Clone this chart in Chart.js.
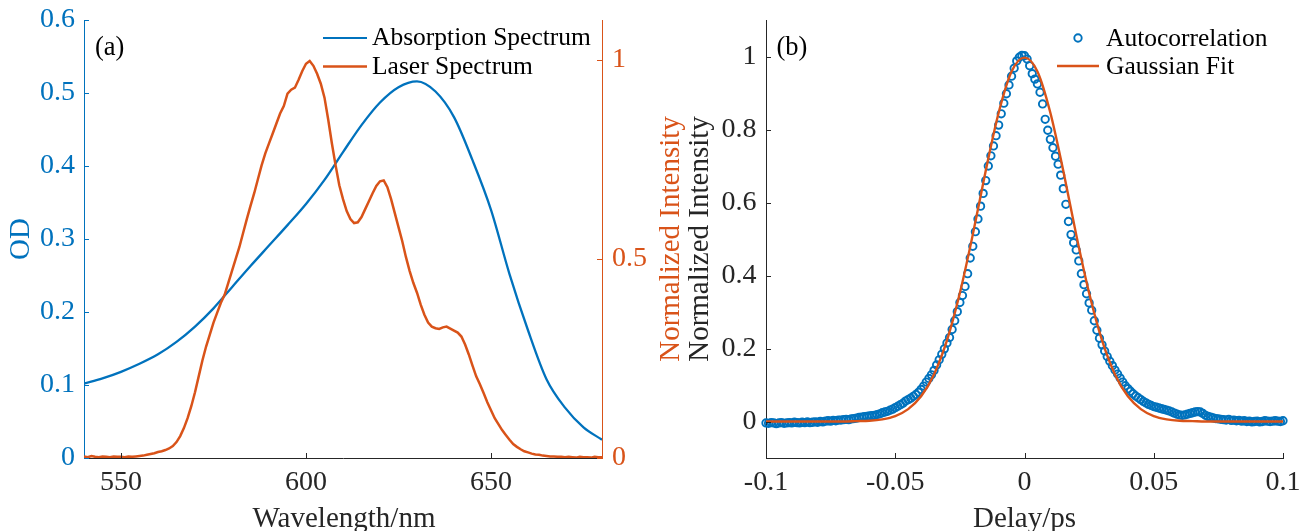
<!DOCTYPE html>
<html>
<head>
<meta charset="utf-8">
<script src="https://cdn.jsdelivr.net/npm/chart.js@4.4.1/dist/chart.umd.min.js"></script>
<style>
  html, body { margin: 0; padding: 0; background: #ffffff; }
  #wrap { position: relative; width: 1302px; height: 531px; overflow: hidden; }
  #wrap canvas { position: absolute; left: 0; top: 0; }
</style>
</head>
<body>
<div id="wrap">
  <canvas id="spectra" width="1302" height="531"></canvas>
  <canvas id="autocorr" width="1302" height="531"></canvas>
</div>
<script>
// ---------- (a) absorption and laser spectra ----------
const absWavelength = [540, 545, 550, 555, 560, 565, 570, 575, 580, 585, 590, 595, 600, 605, 610,
  615, 620, 625, 630, 635, 640, 645, 650, 655, 660, 665, 670, 675, 680];
const absOD = [0.102, 0.109, 0.118, 0.129, 0.142, 0.159, 0.180, 0.205, 0.234, 0.263, 0.291, 0.319,
  0.348, 0.381, 0.419, 0.456, 0.487, 0.508, 0.516, 0.502, 0.467, 0.408, 0.340, 0.252, 0.175, 0.108,
  0.069, 0.042, 0.025];

// laser spectrum sampled every 1 nm from 540 nm to 680 nm
const laserStart = 540;
const laserIntensity = [
  0.004, 0.002, 0.005, 0.003, 0.002, 0.004, 0.003, 0.002, 0.004, 0.003,   // 540-549
  0.003, 0.002, 0.004, 0.003, 0.004, 0.005, 0.006, 0.008, 0.010, 0.012,   // 550-559
  0.015, 0.017, 0.020, 0.024, 0.030, 0.040, 0.055, 0.075, 0.100, 0.130,   // 560-569
  0.165, 0.205, 0.245, 0.280, 0.310, 0.340, 0.365, 0.390, 0.410, 0.440,   // 570-579
  0.470, 0.500, 0.530, 0.565, 0.600, 0.633, 0.665, 0.700, 0.735, 0.765,   // 580-589
  0.790, 0.815, 0.840, 0.865, 0.884, 0.915, 0.925, 0.930, 0.950, 0.972,   // 590-599
  0.990, 0.997, 0.985, 0.965, 0.940, 0.905, 0.850, 0.790, 0.735, 0.685,   // 600-609
  0.650, 0.620, 0.600, 0.590, 0.592, 0.605, 0.625, 0.645, 0.665, 0.683,   // 610-619
  0.695, 0.697, 0.680, 0.650, 0.615, 0.580, 0.545, 0.505, 0.470, 0.440,   // 620-629
  0.415, 0.385, 0.360, 0.340, 0.330, 0.326, 0.324, 0.328, 0.330, 0.325,   // 630-639
  0.320, 0.315, 0.305, 0.285, 0.260, 0.232, 0.205, 0.185, 0.163, 0.140,   // 640-649
  0.120, 0.100, 0.085, 0.070, 0.058, 0.046, 0.035, 0.028, 0.022, 0.017,   // 650-659
  0.014, 0.011, 0.009, 0.008, 0.006, 0.005, 0.004, 0.004, 0.003, 0.003,   // 660-669
  0.002, 0.003, 0.002, 0.001, 0.003, 0.002, 0.002, 0.001, 0.003, 0.002,   // 670-679
  0.002                                                                    // 680
];

const waveTicks = [550, 600, 650];
const odTicks = [0, 0.1, 0.2, 0.3, 0.4, 0.5, 0.6];
const intensityTicks = [0, 0.5, 1];

// ---------- (b) autocorrelation trace ----------
// measured trace sampled every 0.001 ps from -0.1 ps to 0.1 ps
const delayStart = -0.1;
const delayStep = 0.001;
const autocorrelation = [
  -0.004, -0.005, -0.003, -0.004, -0.006, -0.004, -0.003, -0.005, -0.004, -0.003,  // -0.100 .. -0.091
  -0.004, -0.002, -0.003, -0.004, -0.002, -0.003, -0.001, -0.003, -0.002, -0.001,  // -0.090 .. -0.081
  -0.002, 0.000, -0.001, 0.001, 0.002, 0.001, 0.003, 0.002, 0.004, 0.004,          // -0.080 .. -0.071
  0.005, 0.006, 0.005, 0.007, 0.008, 0.009,                                        // -0.070 .. -0.065
  0.011, 0.012, 0.013, 0.014, 0.015, 0.016, 0.017, 0.019, 0.021, 0.024,            // -0.064 .. -0.055
  0.026, 0.028, 0.031, 0.034, 0.038, 0.042, 0.046, 0.050, 0.056, 0.060,            // -0.054 .. -0.045
  0.064, 0.069, 0.074, 0.080,                                                      // -0.044 .. -0.041
  0.088, 0.097, 0.108, 0.118, 0.128, 0.140, 0.155, 0.169, 0.184, 0.199,            // -0.040 .. -0.031
  0.215, 0.230, 0.252, 0.276, 0.301, 0.326, 0.345, 0.370, 0.405, 0.448,            // -0.030 .. -0.021
  0.480, 0.520, 0.555, 0.590, 0.625, 0.660, 0.700, 0.728, 0.755, 0.783,            // -0.020 .. -0.011
  0.812, 0.843, 0.872, 0.898, 0.922, 0.946, 0.968, 0.988, 0.998, 1.003,            // -0.010 .. -0.001
  1.002, 0.993, 0.975, 0.953, 0.938, 0.925, 0.902, 0.870, 0.828, 0.798,            //  0.000 ..  0.009
  0.773, 0.750, 0.727, 0.705, 0.675, 0.638, 0.595, 0.548, 0.512, 0.490,            //  0.010 ..  0.019
  0.470, 0.440, 0.405, 0.375, 0.350, 0.325, 0.305, 0.276, 0.250, 0.228,            //  0.020 ..  0.029
  0.210, 0.193, 0.178, 0.165, 0.153, 0.141, 0.130, 0.119, 0.108, 0.098,            //  0.030 ..  0.039
  0.090, 0.083, 0.076, 0.070, 0.065, 0.060, 0.055, 0.051, 0.047, 0.044,            //  0.040 ..  0.049
  0.041, 0.039, 0.037, 0.035, 0.033, 0.031, 0.029, 0.026, 0.023, 0.020,            //  0.050 ..  0.059
  0.018, 0.017, 0.018, 0.020, 0.022, 0.024, 0.026, 0.027, 0.026, 0.022,            //  0.060 ..  0.069
  0.017, 0.014, 0.012, 0.010, 0.008, 0.007, 0.006, 0.005, 0.004, 0.006,            //  0.070 ..  0.079
  0.003, 0.004, 0.002, 0.003, 0.001, 0.002, 0.000, 0.001, -0.001, 0.000,           //  0.080 ..  0.089
  0.001, -0.001, 0.000, 0.002, 0.001, 0.000, 0.001, 0.002, 0.001, 0.000,           //  0.090 ..  0.099
  0.002                                                                            //  0.100
];

// gaussian fit sampled every 0.005 ps
const fitDelay = [-0.100, -0.095, -0.090, -0.085, -0.080, -0.075, -0.070, -0.065, -0.060, -0.055,
  -0.050, -0.045, -0.040, -0.035, -0.030, -0.025, -0.020, -0.015, -0.010, -0.005, 0,
  0.005, 0.010, 0.015, 0.020, 0.025, 0.030, 0.035, 0.040, 0.045, 0.050, 0.055, 0.060, 0.065,
  0.070, 0.075, 0.080, 0.085, 0.090, 0.095, 0.100];
const fitIntensity = [0, 0, 0, 0, 0, 0, 0, 0.001, 0.002, 0.006,
  0.015, 0.034, 0.069, 0.129, 0.222, 0.352, 0.512, 0.687, 0.846, 0.959, 0.997,
  0.959, 0.846, 0.687, 0.512, 0.352, 0.222, 0.129, 0.069, 0.034, 0.015, 0.006, 0.002, 0.001,
  0, 0, 0, 0, 0, 0, 0];

const delayTicks = [-0.1, -0.05, 0, 0.05, 0.1];
const acTicks = [0, 0.2, 0.4, 0.6, 0.8, 1];

// ---------- styling ----------
const BLUE = '#0072BD';
const ORANGE = '#D95319';
const AXIS = '#262626';
const SERIF = '"Liberation Serif", "Times New Roman", Times, serif';
const TICK_FONT = { family: SERIF, size: 28 };
const TITLE_SIZE = 29;
const fmt = v => String(parseFloat(Number(v).toFixed(3)));

function axis(opts) {
  const { position, min, max, ticks, color, labelColor, padding, size } = opts;
  return {
    type: 'linear',
    position, min, max,
    grid: { display: false, drawTicks: false },
    border: { display: true, color, width: 1 },
    ticks: {
      font: TICK_FONT, color: labelColor, padding,
      autoSkip: false, maxRotation: 0, minRotation: 0,
      callback: v => fmt(v)
    },
    afterBuildTicks: s => { s.ticks = ticks.map(v => ({ value: v })); },
    afterFit: s => {
      if (s.isHorizontal()) s.height = size; else s.width = size;
      s.paddingLeft = 0; s.paddingRight = 0; s.paddingTop = 0; s.paddingBottom = 0;
    }
  };
}

// MATLAB-style tick marks pointing into the plot area
const inwardTicks = {
  id: 'inwardTicks',
  afterDatasetsDraw(chart) {
    const ctx = chart.ctx;
    const len = 5;
    Object.values(chart.scales).forEach(scale => {
      ctx.save();
      ctx.strokeStyle = scale.options.border.color;
      ctx.lineWidth = 1;
      scale.ticks.forEach(t => {
        const p = Math.round(scale.getPixelForValue(t.value)) + 0.5;
        ctx.beginPath();
        if (scale.isHorizontal()) {
          ctx.moveTo(p, scale.top); ctx.lineTo(p, scale.top - len);
        } else if (scale.position === 'left') {
          ctx.moveTo(scale.right, p); ctx.lineTo(scale.right + len, p);
        } else {
          ctx.moveTo(scale.left, p); ctx.lineTo(scale.left - len, p);
        }
        ctx.stroke();
      });
      ctx.restore();
    });
  }
};

function text(ctx, str, x, y, color, size, align, rotate) {
  ctx.save();
  ctx.font = size + 'px ' + SERIF;
  ctx.fillStyle = color;
  ctx.textAlign = align || 'left';
  ctx.textBaseline = 'alphabetic';
  ctx.translate(x, y);
  if (rotate) ctx.rotate(-Math.PI / 2);
  ctx.fillText(str, 0, 0);
  ctx.restore();
}

function legendLine(ctx, x0, x1, y, color, width) {
  ctx.save();
  ctx.strokeStyle = color; ctx.lineWidth = width;
  ctx.beginPath(); ctx.moveTo(x0, y); ctx.lineTo(x1, y); ctx.stroke();
  ctx.restore();
}

const spectraDecor = {
  id: 'spectraDecor',
  afterDraw(chart) {
    const ctx = chart.ctx, a = chart.chartArea;
    const ds = chart.data.datasets;
    const midY = (a.top + a.bottom) / 2;
    text(ctx, '(a)', a.left + 11, a.top + 35, '#000', 26.5);
    text(ctx, 'OD', 28.5, midY, BLUE, TITLE_SIZE, 'center', true);
    text(ctx, 'Normalized Intensity', a.right + 76.5, midY, ORANGE, TITLE_SIZE, 'center', true);
    text(ctx, 'Wavelength/nm', (a.left + a.right) / 2 + 1, 526.5, AXIS, TITLE_SIZE, 'center');
    // legend
    const lx0 = a.right - 279, lx1 = a.right - 235, tx = a.right - 230;
    legendLine(ctx, lx0, lx1, a.top + 18, ds[0].borderColor, 2.2);
    text(ctx, ds[0].label, tx, a.top + 25, '#000', 25.5);
    legendLine(ctx, lx0, lx1, a.top + 46.5, ds[1].borderColor, 2.4);
    text(ctx, ds[1].label, tx, a.top + 53.5, '#000', 25.5);
  }
};

const autocorrDecor = {
  id: 'autocorrDecor',
  afterDraw(chart) {
    const ctx = chart.ctx, a = chart.chartArea;
    const ds = chart.data.datasets;
    const midY = (a.top + a.bottom) / 2;
    text(ctx, '(b)', a.left + 10.5, a.top + 35, '#000', 26.5);
    text(ctx, 'Normalized Intensity', a.left - 58, midY, AXIS, TITLE_SIZE, 'center', true);
    text(ctx, 'Delay/ps', (a.left + a.right) / 2, 526.5, AXIS, TITLE_SIZE, 'center');
    // legend
    const mx = a.right - 205, lx0 = a.right - 226, lx1 = a.right - 184, tx = a.right - 177;
    ctx.save();
    ctx.strokeStyle = ds[0].borderColor; ctx.lineWidth = 1.9;
    ctx.beginPath(); ctx.arc(mx, a.top + 18, 3.7, 0, Math.PI * 2); ctx.stroke();
    ctx.restore();
    text(ctx, ds[0].label, tx, a.top + 25.5, '#000', 25.5);
    legendLine(ctx, lx0, lx1, a.top + 46, ds[1].borderColor, 2.4);
    text(ctx, ds[1].label, tx, a.top + 54, '#000', 25.5);
  }
};

// ---------- chart (a) ----------
new Chart(document.getElementById('spectra'), {
  type: 'line',
  data: {
    datasets: [
      {
        label: 'Absorption Spectrum',
        data: absWavelength.map((w, i) => ({ x: w, y: absOD[i] })),
        yAxisID: 'yOD',
        borderColor: BLUE, borderWidth: 2.3,
        pointRadius: 0, cubicInterpolationMode: 'monotone',
        order: 1
      },
      {
        label: 'Laser Spectrum',
        data: laserIntensity.map((v, i) => ({ x: laserStart + i, y: v })),
        yAxisID: 'yInt',
        borderColor: ORANGE, borderWidth: 2.5,
        pointRadius: 0, tension: 0,
        order: 0
      }
    ]
  },
  options: {
    responsive: false, animation: false, devicePixelRatio: 1,
    layout: { padding: { top: 20, left: 0, right: 0, bottom: 0 } },
    plugins: { legend: { display: false }, tooltip: { enabled: false } },
    scales: {
      x: axis({ position: 'bottom', min: 540, max: 680, ticks: waveTicks, color: AXIS, labelColor: AXIS, padding: 8, size: 73 }),
      yOD: axis({ position: 'left', min: 0, max: 0.6, ticks: odTicks, color: BLUE, labelColor: BLUE, padding: 9, size: 84 }),
      yInt: axis({ position: 'right', min: 0, max: 1.1, ticks: intensityTicks, color: ORANGE, labelColor: ORANGE, padding: 10, size: 700 })
    }
  },
  plugins: [inwardTicks, spectraDecor]
});

// ---------- chart (b) ----------
new Chart(document.getElementById('autocorr'), {
  type: 'line',
  data: {
    datasets: [
      {
        label: 'Autocorrelation',
        data: autocorrelation.map((v, i) => ({ x: +(delayStart + i * delayStep).toFixed(3), y: v })),
        showLine: false,
        borderColor: BLUE, backgroundColor: 'rgba(0,0,0,0)',
        pointStyle: 'circle', pointRadius: 3.7, pointBorderWidth: 1.9,
        pointBackgroundColor: 'rgba(0,0,0,0)', pointBorderColor: BLUE,
        clip: false,
        order: 1
      },
      {
        label: 'Gaussian Fit',
        data: fitDelay.map((d, i) => ({ x: d, y: fitIntensity[i] })),
        borderColor: ORANGE, borderWidth: 2.4,
        pointRadius: 0, cubicInterpolationMode: 'monotone',
        order: 0
      }
    ]
  },
  options: {
    responsive: false, animation: false, devicePixelRatio: 1,
    layout: { padding: { top: 20, left: 0, right: 19, bottom: 0 } },
    plugins: { legend: { display: false }, tooltip: { enabled: false } },
    scales: {
      x: axis({ position: 'bottom', min: -0.1, max: 0.1, ticks: delayTicks, color: AXIS, labelColor: AXIS, padding: 8, size: 73 }),
      y: axis({ position: 'left', min: -0.1, max: 1.1, ticks: acTicks, color: AXIS, labelColor: AXIS, padding: 9.5, size: 766 })
    }
  },
  plugins: [inwardTicks, autocorrDecor]
});
</script>
</body>
</html>
